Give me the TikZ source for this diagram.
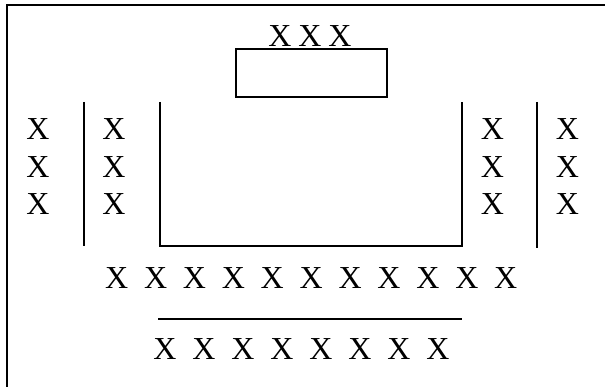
\documentclass[tikz,border=0pt]{standalone}
\usepackage{fontspec}
\setmainfont{Liberation Serif}
\usetikzlibrary{positioning}

\tikzset{
  seat/.style={inner sep=0pt, font=\fontsize{32}{34}\selectfont},
  wall/.style={line width=2pt}
}

\begin{document}
\begin{tikzpicture}[x=1pt,y=-1pt]
\useasboundingbox (0,0) rectangle (605,387);

% Room frame (top and left side)
\draw[wall] (7,387) -- (7,5) -- (605,5);

% Front table
\node[draw, wall, inner sep=0pt, minimum width=151pt, minimum height=48pt] (table) at (311,72.7) {};
\foreach \i in {0,1,2}
  \node[seat, anchor=base] (front\i) at (280+30*\i,46.5) {X};

% U-shaped table
\draw[wall] (159.5,102) -- (159.5,246) -- (461.5,246) -- (461.5,102);

% Side partitions
\draw[wall] (83.5,102) -- (83.5,246);
\draw[wall] (536.5,102) -- (536.5,248);

% Side seats
\foreach \c [count=\k] in {38,114,492.5,567.5}
  \foreach \r [count=\j] in {129,167,204}
    \node[seat] (side\k\j) at (\c,\r) {X};

% Rows in front of the U
\foreach \i in {0,...,10}
  \node[seat] (rowa\i) at (116.7+38.9*\i,278) {X};
\draw[wall] (158,319) -- (462,319);
\foreach \i in {0,...,7}
  \node[seat] (rowb\i) at (165+39*\i,349) {X};

\end{tikzpicture}
\end{document}
